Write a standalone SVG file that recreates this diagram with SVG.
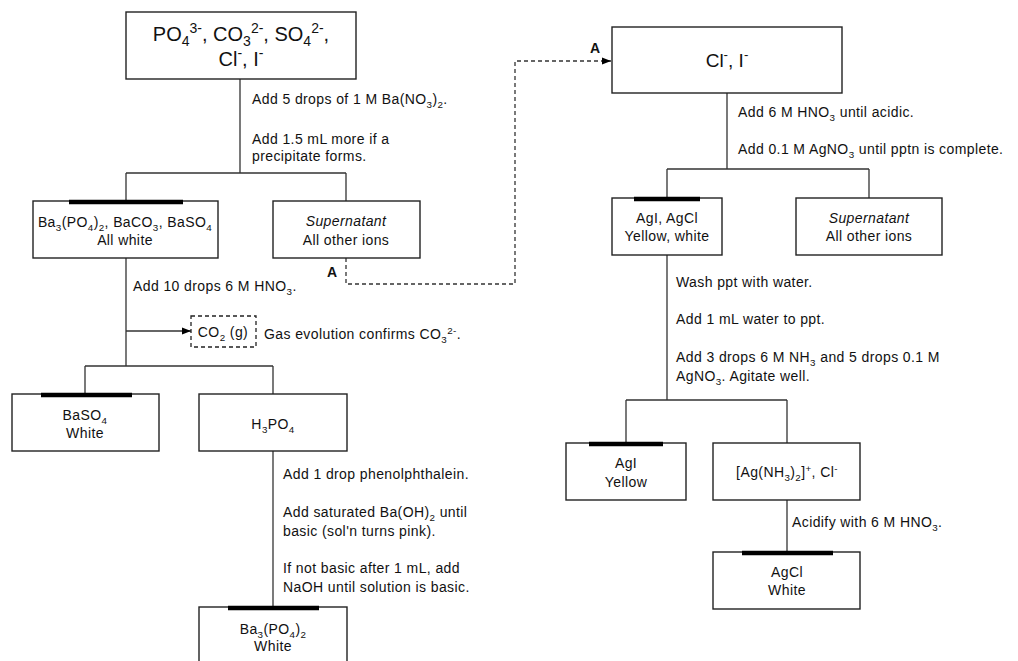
<svg xmlns="http://www.w3.org/2000/svg" width="1018" height="661" viewBox="0 0 1018 661">
<style>
text{font-family:"Liberation Sans",Arial,sans-serif;font-size:14px;fill:#111;letter-spacing:0.4px}
.big{font-size:20px;letter-spacing:0}
.mid{font-size:19px;letter-spacing:0}
.c{text-anchor:middle}
.i{font-style:italic}
.b{font-weight:bold;letter-spacing:0}
.s{font-size:70%}
.box{fill:#fff;stroke:#222;stroke-width:1.4}
.dbox{fill:#fff;stroke:#222;stroke-width:1.3;stroke-dasharray:4 3}
.bar{stroke:#000;stroke-width:4.5}
.ln{stroke:#333;stroke-width:1.3;fill:none}
.dash{stroke-dasharray:4 3}
</style>
<defs>
<marker id="ah" viewBox="0 0 10 10" refX="10" refY="5" markerWidth="9" markerHeight="9" markerUnits="userSpaceOnUse" orient="auto">
<path d="M0,1 L10,5 L0,9 Z" fill="#000"/>
</marker>
</defs>
<rect width="1018" height="661" fill="#fff"/>

<g id="connectors">
<path class="ln" d="M240,79 V173 M126,173 H346 M126,173 V201 M346,173 V201"/>
<path class="ln" d="M126,258 V366 M85,366 H273 M85,366 V394 M273,366 V394"/>
<path class="ln" d="M126,331 H191" marker-end="url(#ah)"/>
<path class="ln" d="M273,451 V607"/>
<path class="ln dash" d="M346,258 V284 H515 V61 H611" marker-end="url(#ah)"/>
<path class="ln" d="M727,93 V169 M667,169 H869 M667,169 V198 M869,169 V198"/>
<path class="ln" d="M667,255 V400 M626,400 H787 M626,400 V443 M787,400 V443"/>
<path class="ln" d="M787,500 V552"/>
</g>

<g id="labels">
<text x="252" y="104">Add 5 drops of 1 M Ba(NO<tspan class="s" baseline-shift="-4">3</tspan>)<tspan class="s" baseline-shift="-4">2</tspan>.</text>
<text x="252" y="144">Add 1.5 mL more if a</text>
<text x="252" y="161">precipitate forms.</text>
<text x="133" y="291">Add 10 drops 6 M HNO<tspan class="s" baseline-shift="-4">3</tspan>.</text>
<text x="264" y="339">Gas evolution confirms CO<tspan class="s" baseline-shift="-4">3</tspan><tspan class="s" baseline-shift="5">2-</tspan>.</text>
<text x="283" y="479">Add 1 drop phenolphthalein.</text>
<text x="283" y="517">Add saturated Ba(OH)<tspan class="s" baseline-shift="-4">2</tspan> until</text>
<text x="283" y="536">basic (sol'n turns pink).</text>
<text x="283" y="573">If not basic after 1 mL, add</text>
<text x="283" y="592">NaOH until solution is basic.</text>
<text class="b" x="327" y="277">A</text>
<text class="b" x="590" y="53">A</text>
<text x="738" y="117">Add 6 M HNO<tspan class="s" baseline-shift="-4">3</tspan> until acidic.</text>
<text x="738" y="154">Add 0.1 M AgNO<tspan class="s" baseline-shift="-4">3</tspan> until pptn is complete.</text>
<text x="676" y="287">Wash ppt with water.</text>
<text x="676" y="324">Add 1 mL water to ppt.</text>
<text x="676" y="362">Add 3 drops 6 M NH<tspan class="s" baseline-shift="-4">3</tspan> and 5 drops 0.1 M</text>
<text x="676" y="381">AgNO<tspan class="s" baseline-shift="-4">3</tspan>. Agitate well.</text>
<text x="792" y="527">Acidify with 6 M HNO<tspan class="s" baseline-shift="-4">3</tspan>.</text>
</g>

<g id="n-start">
<rect class="box" x="126" y="12" width="230" height="67"/>
<text class="big c" x="241" y="41">PO<tspan class="s" baseline-shift="-5">4</tspan><tspan class="s" baseline-shift="8">3-</tspan>, CO<tspan class="s" baseline-shift="-5">3</tspan><tspan class="s" baseline-shift="8">2-</tspan>, SO<tspan class="s" baseline-shift="-5">4</tspan><tspan class="s" baseline-shift="8">2-</tspan>,</text>
<text class="big c" x="241" y="66">Cl<tspan class="s" baseline-shift="8">-</tspan>, I<tspan class="s" baseline-shift="8">-</tspan></text>
</g>

<g id="n-ba-ppt">
<rect class="box" x="33" y="201" width="185" height="57"/>
<line class="bar" x1="69" y1="202" x2="183" y2="202"/>
<text class="c" x="125" y="227">Ba<tspan class="s" baseline-shift="-4">3</tspan>(PO<tspan class="s" baseline-shift="-4">4</tspan>)<tspan class="s" baseline-shift="-4">2</tspan>, BaCO<tspan class="s" baseline-shift="-4">3</tspan>, BaSO<tspan class="s" baseline-shift="-4">4</tspan></text>
<text class="c" x="125" y="245">All white</text>
</g>

<g id="n-super1">
<rect class="box" x="273" y="201" width="147" height="57"/>
<text class="c i" x="346" y="226">Supernatant</text>
<text class="c" x="346" y="245">All other ions</text>
</g>

<g id="n-co2">
<rect class="dbox" x="191" y="316" width="65" height="31"/>
<text class="c" x="223" y="337">CO<tspan class="s" baseline-shift="-4">2</tspan> (g)</text>
</g>

<g id="n-baso4">
<rect class="box" x="12" y="394" width="147" height="57"/>
<line class="bar" x1="41" y1="395" x2="132" y2="395"/>
<text class="c" x="85" y="420">BaSO<tspan class="s" baseline-shift="-4">4</tspan></text>
<text class="c" x="85" y="438">White</text>
</g>

<g id="n-h3po4">
<rect class="box" x="199" y="394" width="148" height="57"/>
<text class="c" x="273" y="429">H<tspan class="s" baseline-shift="-4">3</tspan>PO<tspan class="s" baseline-shift="-4">4</tspan></text>
</g>

<g id="n-ba3po4">
<rect class="box" x="199" y="607" width="148" height="60"/>
<line class="bar" x1="228" y1="608" x2="319" y2="608"/>
<text class="c" x="273" y="634">Ba<tspan class="s" baseline-shift="-4">3</tspan>(PO<tspan class="s" baseline-shift="-4">4</tspan>)<tspan class="s" baseline-shift="-4">2</tspan></text>
<text class="c" x="273" y="651">White</text>
</g>

<g id="n-cl-i">
<rect class="box" x="612" y="27" width="230" height="66"/>
<text class="mid c" x="727" y="67">Cl<tspan class="s" baseline-shift="8">-</tspan>, I<tspan class="s" baseline-shift="8">-</tspan></text>
</g>

<g id="n-agi-agcl">
<rect class="box" x="612" y="198" width="110" height="57"/>
<line class="bar" x1="634" y1="199" x2="700" y2="199"/>
<text class="c" x="667" y="223">AgI, AgCl</text>
<text class="c" x="667" y="241">Yellow, white</text>
</g>

<g id="n-super2">
<rect class="box" x="796" y="198" width="146" height="57"/>
<text class="c i" x="869" y="223">Supernatant</text>
<text class="c" x="869" y="241">All other ions</text>
</g>

<g id="n-agi">
<rect class="box" x="566" y="443" width="120" height="57"/>
<line class="bar" x1="589" y1="444" x2="663" y2="444"/>
<text class="c" x="626" y="468">AgI</text>
<text class="c" x="626" y="487">Yellow</text>
</g>

<g id="n-agnh3">
<rect class="box" x="713" y="443" width="147" height="57"/>
<text class="c" x="787" y="477">[Ag(NH<tspan class="s" baseline-shift="-4">3</tspan>)<tspan class="s" baseline-shift="-4">2</tspan>]<tspan class="s" baseline-shift="5">+</tspan>, Cl<tspan class="s" baseline-shift="5">-</tspan></text>
</g>

<g id="n-agcl">
<rect class="box" x="713" y="552" width="147" height="57"/>
<line class="bar" x1="742" y1="553" x2="833" y2="553"/>
<text class="c" x="787" y="577">AgCl</text>
<text class="c" x="787" y="595">White</text>
</g>
</svg>
